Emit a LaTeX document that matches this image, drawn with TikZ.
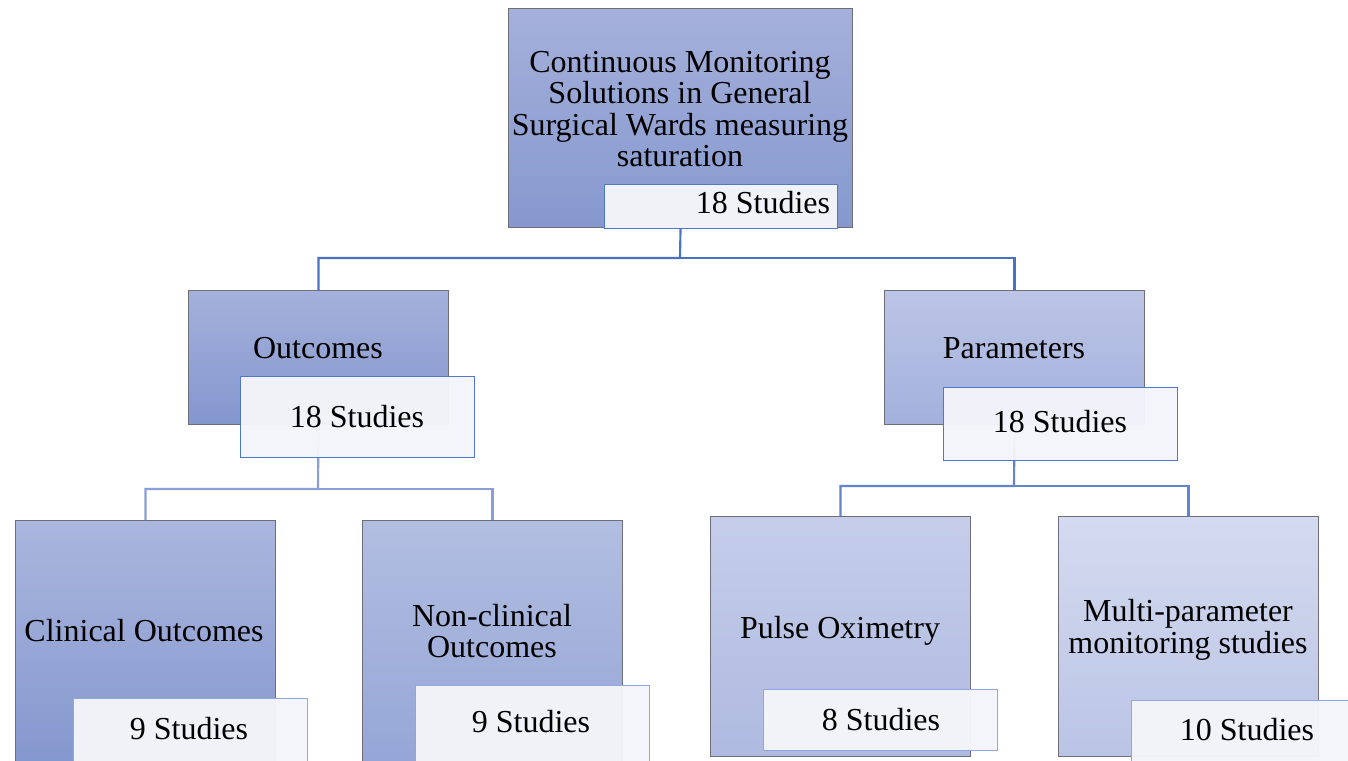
\documentclass[tikz,border=0pt]{standalone}
\usepackage{fontspec}
\setmainfont{Liberation Serif}
\definecolor{boxedge}{HTML}{6E6E78}
\definecolor{labedge}{HTML}{4F78C8}
\definecolor{labedgeL}{HTML}{8FA6DE}
\definecolor{labfill}{HTML}{F4F5FA}
\definecolor{connA}{HTML}{4A72C4}
\definecolor{connB}{HTML}{8A9ED8}
\definecolor{connC}{HTML}{6284CE}
\begin{document}
\begin{tikzpicture}[x=0.75pt,y=-0.75pt,
  box/.style={draw=boxedge, line width=0.8pt, anchor=north west, inner sep=0pt},
  lab/.style={draw=labedge, line width=0.8pt, fill=labfill, fill opacity=0.97, anchor=north west, inner sep=0pt},
  labL/.style={lab, draw=labedgeL},
  txt/.style={font=\fontsize{24}{23.5}\selectfont, align=center, inner sep=0pt, text=black},
  conn/.style={line width=1.6pt, draw=connA},
  connL/.style={line width=1.6pt, draw=connB},
  connR/.style={line width=1.6pt, draw=connC}]
\clip (0,0) rectangle (1348,760);
\fill[white] (0,0) rectangle (1348,760);
% boxes
\node[box, top color={rgb,255:red,165;green,176;blue,219}, bottom color={rgb,255:red,133;green,152;blue,206}, minimum width=258pt, minimum height=164.25pt] (top) at (508,8) {};
\node[box, top color={rgb,255:red,165;green,177;blue,219}, bottom color={rgb,255:red,131;green,150;blue,206}, minimum width=195pt, minimum height=100.5pt] (out) at (188,290) {};
\node[box, top color={rgb,255:red,188;green,197;blue,230}, bottom color={rgb,255:red,162;green,176;blue,220}, minimum width=195pt, minimum height=100.5pt] (par) at (884,290) {};
\node[box, top color={rgb,255:red,170;green,182;blue,221}, bottom color={rgb,255:red,131;green,150;blue,206}, minimum width=195pt, minimum height=187.5pt] (clin) at (15,520) {};
\node[box, top color={rgb,255:red,178;green,190;blue,225}, bottom color={rgb,255:red,148;green,165;blue,214}, minimum width=195pt, minimum height=187.5pt] (nclin) at (362,520) {};
\node[box, top color={rgb,255:red,197;green,205;blue,234}, bottom color={rgb,255:red,174;green,186;blue,224}, minimum width=195pt, minimum height=180pt] (pulse) at (710,516) {};
\node[box, top color={rgb,255:red,212;green,218;blue,239}, bottom color={rgb,255:red,186;green,196;blue,229}, minimum width=195pt, minimum height=180pt] (multi) at (1058,516) {};
% connectors
\coordinate (j1) at (680,258);
\coordinate (j2) at (318,489);
\coordinate (j3) at (1014,486);
\draw[conn] (top.south) -- (j1) -| (out.north);
\draw[conn] (j1) -| (par.north);
\draw[connL] (out.south) -- (j2) -| (clin.north);
\draw[connL] (j2) -| (nclin.north);
\draw[connR] (par.south) -- (j3) -| (pulse.north);
\draw[connR] (j3) -| (multi.north);
% labels
\node[lab, minimum width=174.75pt, minimum height=33pt] (toplab) at (604,184) {};
\node[lab, minimum width=175.5pt, minimum height=60.75pt] (outlab) at (240,376) {};
\node[lab, minimum width=175.5pt, minimum height=54.75pt] (parlab) at (943,387) {};
\node[labL, minimum width=175.5pt, minimum height=60pt] (clinlab) at (73,698) {};
\node[labL, minimum width=175.5pt, minimum height=67.5pt] (nclinlab) at (415,685) {};
\node[labL, minimum width=175.5pt, minimum height=45.75pt] (pulselab) at (763,689) {};
\node[labL, minimum width=175.5pt, minimum height=52.5pt] (multilab) at (1131,700) {};
% texts
\node[txt] (topT) at (680,109) {Continuous Monitoring\\Solutions in General\\Surgical Wards measuring\\saturation};
\node[txt, anchor=base] (toplabT) at (763,213) {18 Studies};
\node[txt, anchor=base] (outT) at (318,358) {Outcomes};
\node[txt, anchor=base] (outlabT) at (357,427) {18 Studies};
\node[txt, anchor=base] (parT) at (1014,358) {Parameters};
\node[txt, anchor=base] (parlabT) at (1060,432) {18 Studies};
\node[txt, anchor=base] (clinT) at (144,641) {Clinical Outcomes};
\node[txt, anchor=base] (clinlabT) at (189,739) {9 Studies};
\node[txt] (nclinT) at (492,631) {Non-clinical\\Outcomes};
\node[txt, anchor=base] (nclinlabT) at (531,732) {9 Studies};
\node[txt, anchor=base] (pulseT) at (840,638) {Pulse Oximetry};
\node[txt, anchor=base] (pulselabT) at (881,730) {8 Studies};
\node[txt] (multiT) at (1188,630) {Multi-parameter\\monitoring studies};
\node[txt, anchor=base] (multilabT) at (1247,740) {10 Studies};
\end{tikzpicture}
\end{document}
